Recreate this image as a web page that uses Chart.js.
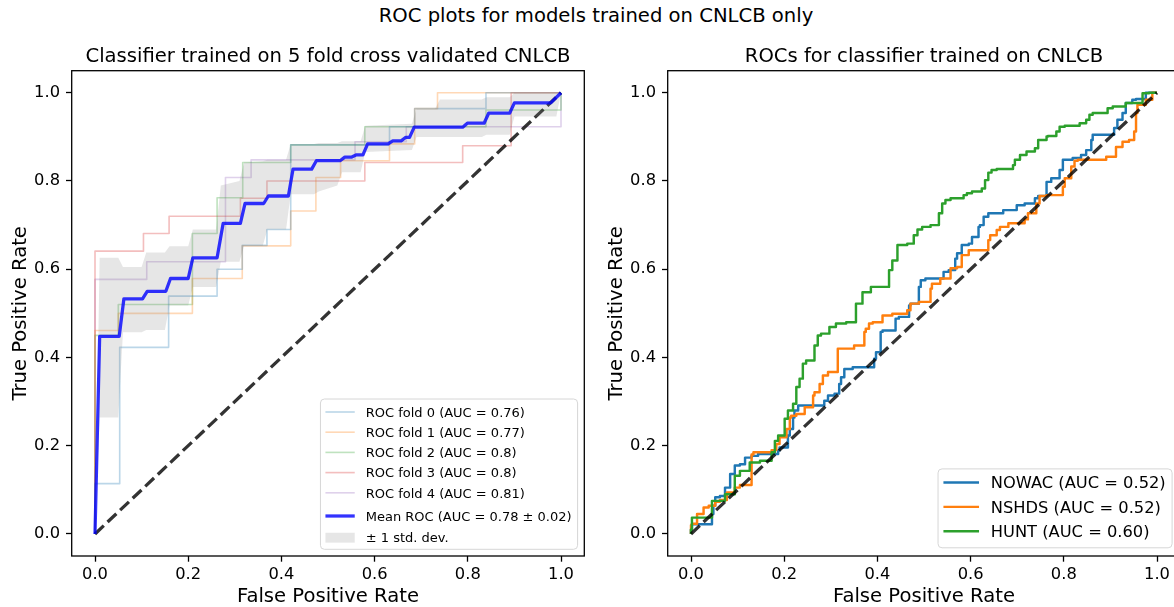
<!DOCTYPE html>
<html>
<head>
<meta charset="utf-8">
<script src="https://cdn.jsdelivr.net/npm/chart.js@4.4.1/dist/chart.umd.min.js"></script>
<style>
    html, body { margin: 0; padding: 0; background: #fff; overflow: hidden; width: 1174px; height: 607px; }
    #suptitle { position: absolute; left: 0; top: 1px; width: 1192px; text-align: center;
        font-family: "DejaVu Sans", sans-serif; font-size: 19.6px; line-height: 30px; color: #000; }
    .panel { position: absolute; top: 0; width: 600px; height: 607px; }
    #left { left: 0; }
    #right { left: 595.6px; }
</style>
</head>
<body>
<div id="suptitle">ROC plots for models trained on CNLCB only</div>
<div class="panel" id="left"><canvas id="chartFolds"></canvas></div>
<div class="panel" id="right"><canvas id="chartCohorts"></canvas></div>
<script>
const tickVals = [0, 0.2, 0.4, 0.6, 0.8, 1.0];
const chanceX = [0, 1];
const chanceY = [0, 1];

// left panel: 5 folds
const foldAuc = [0.76, 0.77, 0.8, 0.8, 0.81];
const fold0Fpr = [0, 0, 0.053, 0.053, 0.158, 0.158, 0.262, 0.262, 0.316, 0.316, 0.369, 0.369, 0.42, 0.42, 0.632, 0.632, 0.686, 0.686, 0.839, 0.839, 1.0];
const fold0Tpr = [0, 0.114, 0.114, 0.423, 0.423, 0.539, 0.539, 0.6, 0.6, 0.654, 0.654, 0.69, 0.69, 0.882, 0.882, 0.923, 0.923, 0.964, 0.964, 1.0, 1.0];
const fold1Fpr = [0, 0, 0.05, 0.05, 0.209, 0.209, 0.316, 0.316, 0.42, 0.42, 0.474, 0.474, 0.527, 0.527, 0.632, 0.632, 0.686, 0.686, 0.735, 0.735, 1.0];
const fold1Tpr = [0, 0.461, 0.461, 0.5, 0.5, 0.579, 0.579, 0.653, 0.653, 0.732, 0.732, 0.808, 0.808, 0.846, 0.846, 0.884, 0.884, 0.964, 0.964, 1.0, 1.0];
const fold2Fpr = [0, 0, 0.05, 0.05, 0.209, 0.209, 0.262, 0.262, 0.317, 0.317, 0.42, 0.42, 0.579, 0.579, 0.839, 0.839, 1.0, 1.0];
const fold2Tpr = [0, 0.45, 0.45, 0.52, 0.52, 0.681, 0.681, 0.762, 0.762, 0.842, 0.842, 0.882, 0.882, 0.923, 0.923, 0.961, 0.961, 1.0];
const fold3Fpr = [0, 0, 0.104, 0.104, 0.159, 0.159, 0.312, 0.312, 0.369, 0.369, 0.579, 0.579, 0.789, 0.789, 0.893, 0.893, 1.0];
const fold3Tpr = [0, 0.641, 0.641, 0.681, 0.681, 0.72, 0.72, 0.761, 0.761, 0.80, 0.80, 0.842, 0.842, 0.88, 0.88, 1.0, 1.0];
const fold4Fpr = [0, 0, 0.111, 0.111, 0.28, 0.28, 0.335, 0.335, 0.558, 0.558, 0.668, 0.668, 1.0, 1.0];
const fold4Tpr = [0, 0.577, 0.577, 0.617, 0.617, 0.808, 0.808, 0.848, 0.848, 0.889, 0.889, 0.923, 0.923, 1.0];

const meanFpr = [0, 0.01, 0.052, 0.062, 0.102, 0.112, 0.152, 0.162, 0.2, 0.21, 0.262, 0.275, 0.312, 0.322, 0.362, 0.372, 0.415, 0.425, 0.465, 0.475, 0.526, 0.536, 0.55, 0.56, 0.575, 0.585, 0.629, 0.639, 0.657, 0.667, 0.675, 0.685, 0.789, 0.799, 0.835, 0.845, 0.89, 0.9, 0.978, 1.0];
const meanTpr = [0, 0.448, 0.448, 0.533, 0.533, 0.55, 0.55, 0.579, 0.579, 0.626, 0.626, 0.704, 0.704, 0.749, 0.749, 0.766, 0.766, 0.827, 0.827, 0.846, 0.846, 0.854, 0.854, 0.859, 0.859, 0.884, 0.884, 0.891, 0.891, 0.899, 0.899, 0.922, 0.922, 0.931, 0.931, 0.954, 0.954, 0.977, 0.977, 1.0];

const bandFpr = [0, 0.01, 0.05, 0.06, 0.10, 0.11, 0.15, 0.16, 0.20, 0.21, 0.26, 0.27, 0.31, 0.32, 0.36, 0.37, 0.41, 0.42, 0.47, 0.48, 0.52, 0.53, 0.57, 0.58, 0.68, 0.69, 0.73, 0.74, 0.83, 0.84, 0.89, 0.90, 0.99, 1.0];
const bandUpper = [0, 0.626, 0.626, 0.605, 0.605, 0.638, 0.638, 0.652, 0.652, 0.69, 0.69, 0.79, 0.80, 0.842, 0.845, 0.848, 0.848, 0.884, 0.884, 0.886, 0.886, 0.89, 0.89, 0.925, 0.93, 0.964, 0.964, 0.985, 0.985, 0.99, 0.99, 1.0, 1.0, 1.0];
const bandLower = [0, 0.264, 0.264, 0.457, 0.457, 0.462, 0.462, 0.518, 0.518, 0.56, 0.56, 0.617, 0.617, 0.653, 0.653, 0.69, 0.69, 0.77, 0.77, 0.776, 0.79, 0.82, 0.82, 0.866, 0.87, 0.9, 0.9, 0.9, 0.9, 0.905, 0.905, 0.946, 0.946, 1.0];

// right panel: cohorts
const cohorts = ['NOWAC', 'NSHDS', 'HUNT'];
const cohortAuc = [0.52, 0.52, 0.60];
const nowacFpr = [0, 0.002, 0.02, 0.045, 0.048, 0.052, 0.062, 0.073, 0.084, 0.094, 0.105, 0.116, 0.13, 0.144, 0.187, 0.19, 0.208, 0.212, 0.219, 0.222, 0.23, 0.251, 0.286, 0.294, 0.308, 0.318, 0.322, 0.329, 0.347, 0.393, 0.397, 0.407, 0.411, 0.439, 0.446, 0.468, 0.471, 0.489, 0.493, 0.503, 0.542, 0.553, 0.567, 0.571, 0.581, 0.596, 0.603, 0.617, 0.62, 0.628, 0.638, 0.67, 0.699, 0.716, 0.738, 0.745, 0.763, 0.773, 0.791, 0.798, 0.819, 0.837, 0.848, 0.859, 0.862, 0.873, 0.908, 0.915, 0.926, 0.933, 0.947, 0.955, 0.976, 1.0];
const nowacTpr = [0, 0.01, 0.022, 0.022, 0.045, 0.064, 0.083, 0.086, 0.105, 0.136, 0.155, 0.158, 0.173, 0.177, 0.181, 0.189, 0.196, 0.223, 0.238, 0.264, 0.28, 0.291, 0.291, 0.302, 0.314, 0.318, 0.34, 0.355, 0.374, 0.378, 0.397, 0.412, 0.458, 0.461, 0.488, 0.492, 0.518, 0.522, 0.56, 0.575, 0.579, 0.594, 0.598, 0.624, 0.636, 0.655, 0.658, 0.673, 0.696, 0.7, 0.719, 0.727, 0.734, 0.745, 0.749, 0.761, 0.766, 0.798, 0.806, 0.825, 0.848, 0.852, 0.859, 0.87, 0.893, 0.905, 0.905, 0.92, 0.939, 0.954, 0.977, 0.984, 0.986, 1.0];
const nshdsFpr = [0, 0.002, 0.013, 0.027, 0.038, 0.052, 0.062, 0.077, 0.094, 0.105, 0.13, 0.134, 0.173, 0.183, 0.19, 0.205, 0.212, 0.215, 0.226, 0.244, 0.262, 0.265, 0.276, 0.283, 0.294, 0.315, 0.318, 0.35, 0.372, 0.375, 0.382, 0.39, 0.411, 0.432, 0.464, 0.471, 0.489, 0.514, 0.517, 0.535, 0.557, 0.571, 0.581, 0.596, 0.613, 0.638, 0.642, 0.656, 0.663, 0.681, 0.716, 0.723, 0.741, 0.748, 0.763, 0.798, 0.802, 0.816, 0.823, 0.83, 0.891, 0.912, 0.926, 0.94, 0.951, 0.955, 0.958, 0.976, 0.99, 1.0];
const nshdsTpr = [0, 0.02, 0.023, 0.045, 0.06, 0.064, 0.073, 0.077, 0.094, 0.105, 0.111, 0.18, 0.185, 0.19, 0.204, 0.219, 0.238, 0.264, 0.268, 0.272, 0.287, 0.314, 0.321, 0.34, 0.359, 0.367, 0.42, 0.42, 0.427, 0.458, 0.465, 0.477, 0.48, 0.495, 0.499, 0.507, 0.522, 0.526, 0.556, 0.567, 0.579, 0.602, 0.605, 0.632, 0.643, 0.643, 0.666, 0.677, 0.689, 0.696, 0.704, 0.713, 0.727, 0.749, 0.766, 0.768, 0.787, 0.806, 0.833, 0.846, 0.848, 0.855, 0.877, 0.889, 0.893, 0.912, 0.954, 0.973, 0.984, 1.0];
const huntFpr = [0, 0.002, 0.045, 0.073, 0.094, 0.105, 0.126, 0.148, 0.173, 0.18, 0.187, 0.201, 0.208, 0.219, 0.226, 0.233, 0.24, 0.247, 0.265, 0.272, 0.279, 0.297, 0.311, 0.333, 0.354, 0.368, 0.386, 0.425, 0.432, 0.443, 0.464, 0.478, 0.486, 0.496, 0.514, 0.532, 0.539, 0.546, 0.557, 0.585, 0.592, 0.603, 0.624, 0.631, 0.638, 0.645, 0.656, 0.691, 0.695, 0.706, 0.72, 0.738, 0.745, 0.763, 0.766, 0.784, 0.791, 0.802, 0.834, 0.848, 0.855, 0.862, 0.894, 0.905, 0.933, 0.94, 0.969, 0.983, 1.0];
const huntTpr = [0, 0.01, 0.037, 0.075, 0.09, 0.132, 0.143, 0.162, 0.166, 0.185, 0.211, 0.223, 0.261, 0.28, 0.295, 0.333, 0.352, 0.386, 0.393, 0.427, 0.45, 0.454, 0.469, 0.477, 0.48, 0.522, 0.548, 0.56, 0.598, 0.62, 0.655, 0.658, 0.677, 0.69, 0.696, 0.7, 0.727, 0.749, 0.757, 0.761, 0.768, 0.772, 0.776, 0.783, 0.802, 0.819, 0.825, 0.827, 0.836, 0.848, 0.859, 0.867, 0.874, 0.893, 0.901, 0.902, 0.912, 0.923, 0.925, 0.931, 0.939, 0.95, 0.954, 0.965, 0.969, 0.977, 0.977, 0.999, 1.0];

const FONT = '"DejaVu Sans", sans-serif';
const pts = (xs, ys) => xs.map((x, i) => ({ x, y: ys[i] }));

function scaleOpts(axis, title) {
    return {
        type: 'linear', min: -0.05, max: 1.05,
        afterBuildTicks: s => { s.ticks = tickVals.map(v => ({ value: v })); },
        afterFit: s => { if (axis === 'x') s.height = 51; else s.width = 71.7; },
        grid: { drawOnChartArea: false, drawTicks: true, tickLength: 5.7, tickWidth: 1.3, tickColor: '#000' },
        border: { display: false },
        ticks: {
            padding: axis === 'x' ? 3.5 : 6, color: '#000', autoSkip: false, maxRotation: 0,
            font: { family: FONT, size: 16.3 }, callback: v => v.toFixed(1)
        },
        title: {
            display: true, text: title, color: '#000', font: { family: FONT, size: 19.6, lineHeight: 1 },
            padding: axis === 'x' ? { top: 0, bottom: 0 } : { top: 11.6, bottom: 0 }
        }
    };
}

const frame = {
    id: 'frame',
    afterDatasetsDraw(chart) {
        const { ctx, chartArea: a } = chart;
        ctx.save();
        ctx.strokeStyle = '#000';
        ctx.lineWidth = 1.3;
        ctx.strokeRect(a.left, a.top, a.right - a.left, a.bottom - a.top);
        ctx.restore();
    }
};

const panelTitle = {
    id: 'panelTitle',
    afterDraw(chart, args, o) {
        const { ctx, chartArea: a } = chart;
        ctx.save();
        ctx.font = `19.6px ${FONT}`;
        ctx.fillStyle = '#000';
        ctx.textAlign = 'center';
        ctx.textBaseline = 'alphabetic';
        ctx.fillText(o.text, (a.left + a.right) / 2, a.top - 9);
        ctx.restore();
    }
};

// matplotlib style legend in the lower right corner of the axes
const boxLegend = {
    id: 'boxLegend',
    afterDraw(chart, args, o) {
        const { ctx, chartArea: a } = chart;
        const items = chart.data.datasets.filter(d => d.label);
        const fs = o.fontSize;
        const gaps = o.gaps || [];
        ctx.save();
        ctx.font = `${fs}px ${FONT}`;
        const textW = Math.max(...items.map(d => ctx.measureText(d.label).width));
        const w = o.pad + o.handle + o.gap + textW + o.pad + 1;
        const h = o.padTop + o.padBottom + items.length * o.rowH + gaps.reduce((s, g) => s + g, 0);
        const right = a.right - o.margin, bottom = a.bottom - o.margin;
        const left = right - w, top = bottom - h;
        ctx.beginPath();
        ctx.roundRect(left, top, w, h, 4);
        ctx.fillStyle = 'rgba(255,255,255,0.8)';
        ctx.fill();
        ctx.strokeStyle = '#d6d6d6';
        ctx.lineWidth = 1;
        ctx.stroke();
        let y = top + o.padTop;
        items.forEach((d, i) => {
            y += gaps[i] || 0;
            const cy = y + o.rowH / 2;
            const hx = left + o.pad;
            if (d.fill) {
                ctx.fillStyle = d.backgroundColor;
                ctx.fillRect(hx, cy - 0.38 * fs, o.handle, 0.76 * fs);
            } else {
                ctx.strokeStyle = d.borderColor;
                ctx.lineWidth = d.borderWidth;
                ctx.beginPath();
                ctx.moveTo(hx, cy);
                ctx.lineTo(hx + o.handle, cy);
                ctx.stroke();
            }
            ctx.fillStyle = '#000';
            ctx.textBaseline = 'alphabetic';
            ctx.fillText(d.label, hx + o.handle + o.gap, cy + 0.365 * fs);
            y += o.rowH;
        });
        ctx.restore();
    }
};

function baseOptions(title, legend) {
    return {
        responsive: true, maintainAspectRatio: false, animation: false, events: [],
        devicePixelRatio: 1,
        layout: { padding: { left: 0, top: 70.7, right: 15.7, bottom: 0 } },
        elements: { point: { radius: 0 }, line: { borderJoinStyle: 'round', borderCapStyle: 'butt' } },
        plugins: {
            legend: { display: false }, tooltip: { enabled: false },
            panelTitle: { text: title },
            boxLegend: legend
        },
        scales: {
            x: scaleOpts('x', 'False Positive Rate'),
            y: scaleOpts('y', 'True Positive Rate')
        }
    };
}

const foldColors = ['rgba(31,119,180,0.3)', 'rgba(255,127,14,0.3)', 'rgba(44,160,44,0.3)', 'rgba(214,39,40,0.3)', 'rgba(148,103,189,0.3)'];
const foldData = [[fold0Fpr, fold0Tpr], [fold1Fpr, fold1Tpr], [fold2Fpr, fold2Tpr], [fold3Fpr, fold3Tpr], [fold4Fpr, fold4Tpr]];

const chanceLine = {
    data: pts(chanceX, chanceY), borderColor: 'rgba(0,0,0,0.8)', borderWidth: 3.27,
    borderDash: [12.1, 5.2], fill: false, order: 1
};

new Chart(document.getElementById('chartFolds'), {
    type: 'line',
    data: {
        datasets: [
            ...foldData.map(([f, t], i) => ({
                label: `ROC fold ${i} (AUC = ${foldAuc[i]})`,
                data: pts(f, t), borderColor: foldColors[i], borderWidth: 1.63, fill: false, order: 6
            })),
            {
                label: 'Mean ROC (AUC = 0.78 \u00b1 0.02)',
                data: pts(meanFpr, meanTpr), borderColor: 'rgba(0,0,255,0.8)', borderWidth: 3.27, fill: false, order: 2
            },
            {
                label: '\u00b1 1 std. dev.',
                data: pts(bandFpr, bandUpper), borderWidth: 0, borderColor: 'rgba(0,0,0,0)',
                backgroundColor: 'rgba(128,128,128,0.2)', fill: '+1', order: 4
            },
            {
                data: pts(bandFpr, bandLower), borderWidth: 0, borderColor: 'rgba(0,0,0,0)', fill: false, order: 4
            },
            { ...chanceLine, order: 5 }
        ]
    },
    options: baseOptions('Classifier trained on 5 fold cross validated CNLCB', {
        fontSize: 13, rowH: 20.2, gaps: [0, 0, 0, 0, 0, 3, 1.5], padTop: 2.9, padBottom: 1.5,
        pad: 5, handle: 29.3, gap: 11, margin: 6.7
    }),
    plugins: [frame, panelTitle, boxLegend]
});

const cohortColors = ['#1f77b4', '#ff7f0e', '#2ca02c'];
const cohortData = [[nowacFpr, nowacTpr], [nshdsFpr, nshdsTpr], [huntFpr, huntTpr]];

new Chart(document.getElementById('chartCohorts'), {
    type: 'line',
    data: {
        datasets: [
            ...cohortData.map(([f, t], i) => ({
                label: `${cohorts[i]} (AUC = ${cohortAuc[i].toFixed(2)})`,
                data: pts(f, t), borderColor: cohortColors[i], borderWidth: 2.45,
                stepped: 'after', fill: false, order: 4 - i
            })),
            chanceLine
        ]
    },
    options: baseOptions('ROCs for classifier trained on CNLCB', {
        fontSize: 16.3, rowH: 24.3, gaps: [], padTop: 1.5, padBottom: 4.5,
        pad: 5.4, handle: 35.6, gap: 11.7, margin: 8.2
    }),
    plugins: [frame, panelTitle, boxLegend]
});
</script>
</body>
</html>
